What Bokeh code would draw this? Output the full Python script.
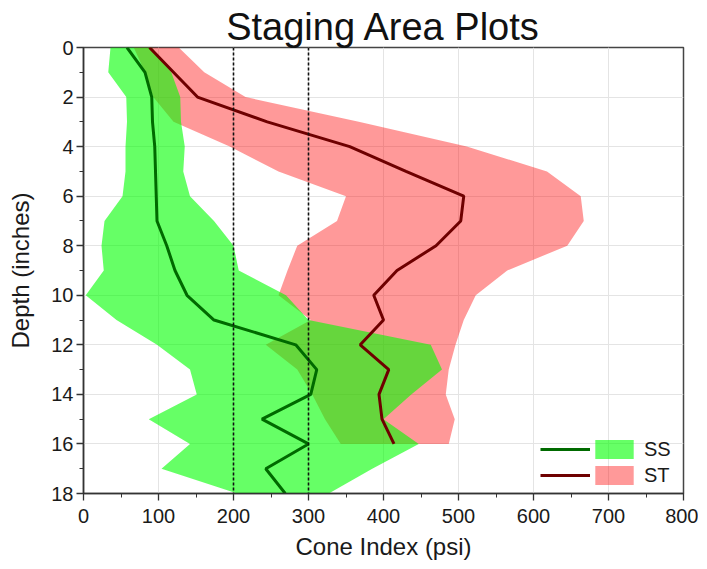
from bokeh.plotting import figure
from bokeh.models import Range1d, SingleIntervalTicker, Span, Legend, LegendItem
from bokeh.embed import file_html
from bokeh.resources import INLINE

# ---- data ----
depth_ss = [0, 1, 2, 3, 4, 5, 6, 7, 8, 9, 10, 11, 12, 13, 14, 15, 16, 17, 18]
ss_mean = [58, 82, 91, 92, 95, 96, 97, 98, 111, 122, 138, 174, 283, 311, 303, 238, 300, 243, 269]
ss_min = [36, 33, 57, 58, 56, 56, 52, 28, 24, 27, 3, 44, 98, 142, 151, 87, 142, 104, 205]
ss_max = [91, 117, 129, 130, 135, 133, 142, 174, 200, 207, 270, 300, 463, 478, 437, 400, 447, 385, 327]

depth_st = [0, 1, 2, 3, 4, 5, 6, 7, 8, 9, 10, 11, 12, 13, 14, 15, 16]
st_mean = [88, 120, 152, 245, 355, 430, 507, 503, 470, 418, 387, 400, 369, 407, 394, 398, 414]
st_min = [67, 82, 93, 120, 195, 260, 350, 338, 285, 272, 260, 303, 243, 285, 305, 322, 343]
st_max = [127, 161, 216, 367, 511, 618, 663, 667, 645, 565, 523, 507, 496, 487, 483, 495, 487]

ref_lines = [200, 300]
title_text = "Staging Area Plots"
x_label = "Cone Index (psi)"
y_label = "Depth (inches)"

FONT = "Liberation Sans"

p = figure(width=698, height=566, output_backend="svg", toolbar_location=None,
           x_range=Range1d(0, 800), y_range=Range1d(18, 0),
           min_border_left=83, min_border_right=15, min_border_top=47, min_border_bottom=73)

# title
p.title.text = title_text
p.title.align = "center"
p.title.text_font = FONT
p.title.text_font_size = "38px"
p.title.text_font_style = "normal"
p.title.text_color = "#111111"
p.title.standoff = 0

# bands
r_st_band = p.harea(x1=st_min, x2=st_max, y=depth_st, fill_color="#ff0000", fill_alpha=0.4)
r_ss_band = p.harea(x1=ss_min, x2=ss_max, y=depth_ss, fill_color="#00ff00", fill_alpha=0.6)

# reference dotted lines
for xv in ref_lines:
    p.add_layout(Span(location=xv, dimension="height", line_color="#111111",
                      line_width=1.6, line_dash="3 2"))

# mean lines
r_ss_line = p.line(ss_mean, depth_ss, line_color="#006a00", line_width=3)
r_st_line = p.line(st_mean, depth_st, line_color="#6e0000", line_width=3)

# axes
p.xaxis.ticker = SingleIntervalTicker(interval=100, num_minor_ticks=2)
p.yaxis.ticker = SingleIntervalTicker(interval=2, num_minor_ticks=2)
p.xaxis.axis_label = x_label
p.yaxis.axis_label = y_label
for ax in (p.xaxis, p.yaxis):
    ax.axis_label_text_font = FONT
    ax.axis_label_text_font_size = "24px"
    ax.axis_label_text_font_style = "normal"
    ax.axis_label_text_color = "#1a1a1a"
    ax.major_label_text_font = FONT
    ax.major_label_text_font_size = "20px"
    ax.major_label_text_color = "#1a1a1a"
    ax.axis_line_color = "#333333"
    ax.axis_line_width = 1.5
    ax.major_tick_line_color = "#333333"
    ax.minor_tick_line_color = "#333333"
    ax.major_tick_line_width = 1.3
    ax.major_tick_in = 0
    ax.major_tick_out = 7
    ax.minor_tick_in = 0
    ax.minor_tick_out = 4
p.xaxis.major_label_standoff = 8
p.xaxis.axis_label_standoff = 7
p.yaxis.major_label_standoff = 3
p.yaxis.axis_label_standoff = 14

p.xgrid.grid_line_color = "#e4e4e4"
p.ygrid.grid_line_color = "#e4e4e4"
p.outline_line_color = "#444444"
p.outline_line_width = 1.5
p.background_fill_color = "white"
p.border_fill_color = "white"

# legend: lines part
leg_lines = Legend(items=[LegendItem(label="", renderers=[r_ss_line]),
                          LegendItem(label="", renderers=[r_st_line])],
                   location=(457, 6), glyph_width=50, glyph_height=24, spacing=2,
                   padding=0, margin=0, label_standoff=0, label_width=0,
                   background_fill_alpha=0, border_line_alpha=0)
# legend: patches + labels
leg_patch = Legend(items=[LegendItem(label="SS", renderers=[r_ss_band]),
                          LegendItem(label="ST", renderers=[r_st_band])],
                   location=(507, 6), glyph_width=48, glyph_height=24, spacing=2,
                   padding=0, margin=0, label_standoff=6,
                   label_text_font=FONT, label_text_font_size="20px",
                   label_text_color="#1a1a1a",
                   background_fill_alpha=0, border_line_alpha=0)
p.add_layout(leg_lines, "center")
p.add_layout(leg_patch, "center")

open("out.html", "w").write(file_html(p, INLINE))
